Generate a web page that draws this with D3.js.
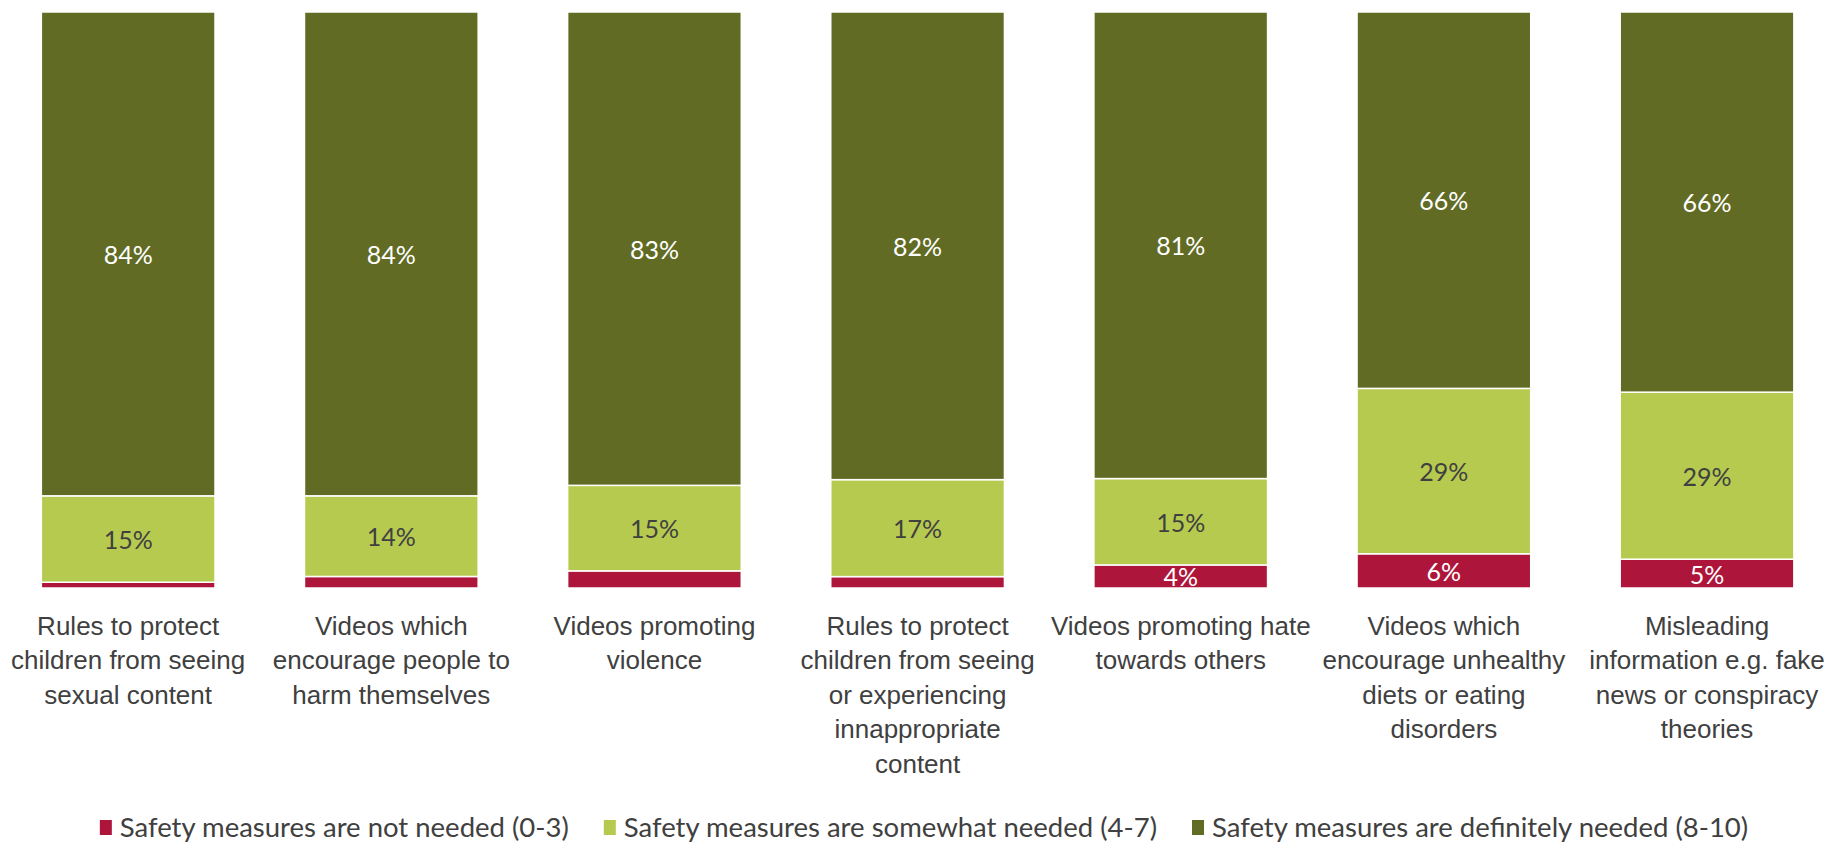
<!DOCTYPE html>
<html>
<head>
<meta charset="utf-8">
<script src="https://cdn.jsdelivr.net/npm/d3@7"></script>
<style>
  html, body { margin: 0; padding: 0; background: #ffffff; }
  svg { display: block; font-family: Lato, "Liberation Sans", Arial, sans-serif; }
</style>
</head>
<body>
<svg id="chart" width="1829" height="846"></svg>
<script>
// ---- Data ----
const categories = [
  "Rules to protect children from seeing sexual content",
  "Videos which encourage people to harm themselves",
  "Videos promoting violence",
  "Rules to protect children from seeing or experiencing innappropriate content",
  "Videos promoting hate towards others",
  "Videos which encourage unhealthy diets or eating disorders",
  "Misleading information e.g. fake news or conspiracy theories"
];
const categoryLines = [
  ["Rules to protect", "children from seeing", "sexual content"],
  ["Videos which", "encourage people to", "harm themselves"],
  ["Videos promoting", "violence"],
  ["Rules to protect", "children from seeing", "or experiencing", "innappropriate", "content"],
  ["Videos promoting hate", "towards others"],
  ["Videos which", "encourage unhealthy", "diets or eating", "disorders"],
  ["Misleading", "information e.g. fake", "news or conspiracy", "theories"]
];
const seriesNames = [
  "Safety measures are not needed (0-3)",
  "Safety measures are somewhat needed (4-7)",
  "Safety measures are definitely needed (8-10)"
];
const notNeeded      = [1, 2, 3, 2, 4, 6, 5];
const somewhatNeeded = [15, 14, 15, 17, 15, 29, 29];
const definitelyNeeded = [84, 84, 83, 82, 81, 66, 66];
const labelThreshold = [4, 0, 0]; // minimum value for a label to be shown, per series
const seriesColors = ["#AD163A", "#B7CA50", "#616B23"];
const labelColors  = ["#ffffff", "#404040", "#ffffff"];

// ---- Build table ----
const keys = ["notNeeded", "somewhatNeeded", "definitelyNeeded"];
const table = categories.map((c, i) => ({
  category: c,
  notNeeded: notNeeded[i],
  somewhatNeeded: somewhatNeeded[i],
  definitelyNeeded: definitelyNeeded[i]
}));

const svg = d3.select("#chart");
const W = 1829, H = 846;
const plotTop = 12, plotBottom = 588;

const x = d3.scaleBand()
  .domain(categories)
  .range([-3.4, 1838.6])
  .paddingInner(0.34)
  .paddingOuter(0.17);

const y = d3.scaleLinear().domain([0, 1]).range([plotBottom, plotTop]);

const stack = d3.stack().keys(keys).offset(d3.stackOffsetExpand);
const stacked = stack(table);

const groups = svg.append("g").selectAll("g.series")
  .data(stacked)
  .join("g")
  .attr("class", "series")
  .attr("fill", (d, i) => seriesColors[i]);

groups.selectAll("rect")
  .data(d => d)
  .join("rect")
  .attr("x", d => x(d.data.category))
  .attr("width", x.bandwidth())
  .attr("y", d => y(d[1]))
  .attr("height", d => y(d[0]) - y(d[1]))
  .attr("stroke", "#ffffff")
  .attr("stroke-width", 1.5);

// Value labels
const labels = svg.append("g");
stacked.forEach((s, si) => {
  labels.selectAll(null)
    .data(s.filter(d => d.data[s.key] >= labelThreshold[si]))
    .join("text")
    .attr("x", d => x(d.data.category) + x.bandwidth() / 2)
    .attr("y", d => (y(d[0]) + y(d[1])) / 2)
    .attr("text-anchor", "middle")
    .attr("dominant-baseline", "central")
    .attr("font-size", 25)
    .attr("fill", labelColors[si])
    .text(d => d.data[s.key] + "%");
});

// Category axis labels (wrapped)
const xAxis = d3.axisBottom(x).tickSize(0).tickFormat("");
const axisG = svg.append("g")
  .attr("transform", `translate(0,${plotBottom})`)
  .call(xAxis);
axisG.select(".domain").remove();
axisG.selectAll(".tick").each(function(cat, i) {
  const t = d3.select(this).append("text")
    .attr("text-anchor", "middle")
    .attr("fill", "#404040")
    .attr("font-size", 26)
    .attr("y", 47);
  categoryLines[i].forEach((line, li) => {
    t.append("tspan").attr("x", 0).attr("dy", li === 0 ? 0 : 34.4).text(line);
  });
});

// Legend
const legend = svg.append("g");
const items = legend.selectAll("g").data(seriesNames).join("g");
items.append("rect")
  .attr("width", 12).attr("height", 15)
  .attr("y", -17)
  .attr("fill", (d, i) => seriesColors[i]);
items.append("text")
  .attr("x", 20)
  .attr("y", 0)
  .attr("font-size", 27.5)
  .attr("fill", "#404040")
  .text(d => d);
let cx = 0;
const gap = 35;
items.each(function() {
  const g = d3.select(this);
  g.attr("transform", `translate(${cx},0)`);
  cx += 20 + g.select("text").node().getComputedTextLength() + gap;
});
const totalW = cx - gap;
legend.attr("transform", `translate(${924 - totalW / 2},${837})`);
</script>
</body>
</html>
